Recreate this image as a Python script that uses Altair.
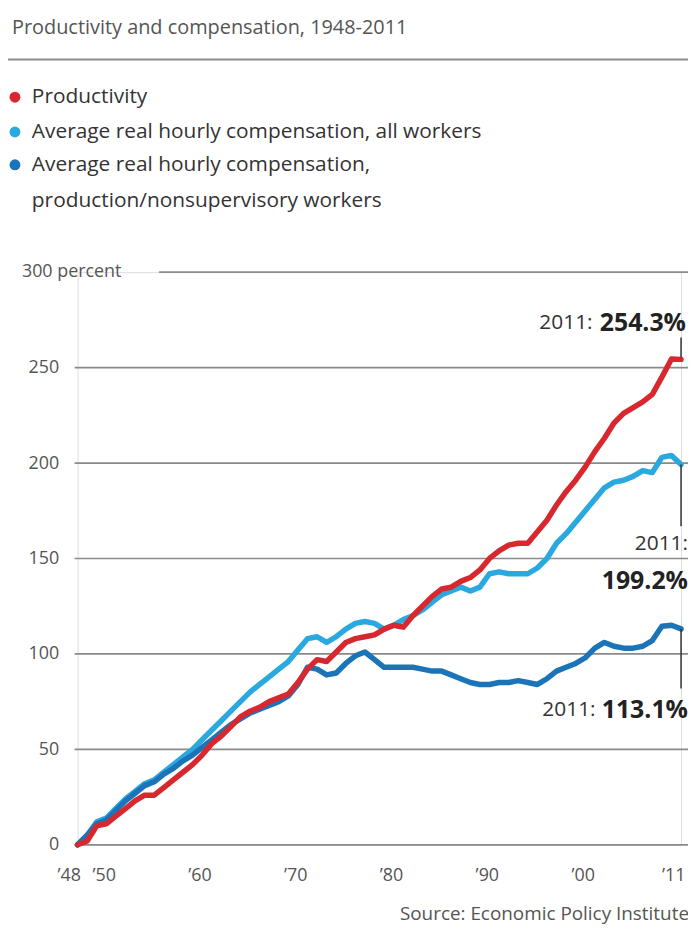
import altair as alt
import pandas as pd

# ---------------- data ----------------
years = list(range(1948, 2012))
productivity = [0, 2, 10, 11, 15, 19, 23, 26, 26, 30,
                34, 38, 42, 47, 53, 57, 62, 67, 70, 72,
                75, 77, 79, 85, 92, 97, 96, 101, 106, 108,
                109, 110, 113, 115, 114, 120, 125, 130, 134, 135,
                138, 140, 144, 150, 154, 157, 158, 158, 164, 170,
                178, 185, 191, 198, 206, 213, 221, 226, 229, 232,
                236, 245, 254.5, 254.3]
comp_all = [0, 5, 12, 14, 19, 24, 28, 32, 34, 38,
            42, 46, 50, 55, 60, 65, 70, 75, 80, 84,
            88, 92, 96, 102, 108, 109, 106, 109, 113, 116,
            117, 116, 113, 115, 118, 120, 123, 127, 131, 133,
            135, 133, 135, 142, 143, 142, 142, 142, 145, 150,
            158, 163, 169, 175, 181, 187, 190, 191, 193, 196,
            195, 203, 204, 199.2]
comp_prod = [0, 5, 11, 13, 18, 23, 27, 31, 33, 37,
             40, 44, 47, 51, 55, 59, 63, 66, 69, 71,
             73, 75, 78, 84, 93, 92, 89, 90, 95, 99,
             101, 97, 93, 93, 93, 93, 92, 91, 91, 89,
             87, 85, 84, 84, 85, 85, 86, 85, 84, 87,
             91, 93, 95, 98, 103, 106, 104, 103, 103, 104,
             107, 114.5, 115, 113.1]

series_names = ["Productivity",
                "Average real hourly compensation, all workers",
                "Average real hourly compensation, production/nonsupervisory workers"]
legend_lines = [["Productivity"],
                ["Average real hourly compensation, all workers"],
                ["Average real hourly compensation,", "production/nonsupervisory workers"]]
colors = ["#d7282f", "#2aa8e0", "#1c74b8"]

y_grid = [0, 50, 100, 150, 200, 250]
y_top = [300]
y_top_label = ["300 percent"]
x_ticks = [1948, 1950, 1960, 1970, 1980, 1990, 2000, 2011]

final_year = 2011
final_values = [254.3, 199.2, 113.1]
final_labels = ["254.3%", "199.2%", "113.1%"]
year_label = "2011:"

title_text = "Productivity and compensation, 1948-2011"
source_text = "Source: Economic Policy Institute"

# ---------------- layout ----------------
W, H = 607, 576
FONT = "Open Sans"

x_enc = alt.X("year:Q",
              scale=alt.Scale(domain=[1948, 2011], nice=False, zero=False),
              axis=alt.Axis(values=x_ticks, title=None, grid=False, domain=False,
                            ticks=False, tickSize=0, labelPadding=31,
                            labelBaseline="middle", labelFlush=False, labelOverlap=False,
                            labelFontSize=18, labelColor="#555", labelFont=FONT,
                            labelExpr="'\u2019' + slice(format(datum.value, 'd'), 2)",
                            labelAlign=alt.ExprRef(expr="datum.value == 2011 ? 'right' : 'center'"),
                            labelOffset=alt.ExprRef(expr="datum.value == 1948 ? -9 : (datum.value == 2011 ? 4 : 7)")))
y_enc = alt.Y("value:Q",
              scale=alt.Scale(domain=[0, 300], nice=False, zero=True),
              axis=alt.Axis(values=y_grid, title=None, grid=False, domain=False,
                            ticks=False, tickSize=0, labelPadding=19,
                            labelBaseline="middle", labelFontSize=18,
                            labelColor="#555", labelFont=FONT))

layers = []

# gridlines
grid_df = pd.DataFrame({"value": y_grid})
layers.append(alt.Chart(grid_df).mark_rule(color="#8a8a8a", strokeWidth=1.7).encode(
    y=y_enc, x=alt.value(-3), x2=alt.value(620)))
top_df = pd.DataFrame({"value": y_top, "label": y_top_label})
layers.append(alt.Chart(top_df).mark_rule(color="#8a8a8a", strokeWidth=1.7).encode(
    y=y_enc, x=alt.value(82), x2=alt.value(620)))
layers.append(alt.Chart(top_df).mark_text(align="left", baseline="middle", fontSize=18,
                                          font=FONT, color="#555").encode(
    y=y_enc, x=alt.value(-56), text="label:N"))

# lines (draw order: all workers, production workers, productivity on top)
series_values = [productivity, comp_all, comp_prod]
for idx in [1, 2, 0]:
    df = pd.DataFrame({"year": years, "value": series_values[idx]})
    layers.append(alt.Chart(df).mark_line(strokeWidth=5.5, strokeJoin="round",
                                          strokeCap="round", color=colors[idx]).encode(
        x=x_enc, y=y_enc))

# end annotations
ann_style = [
    # (rule yOffset, y2Offset, year-label dx, dy, value dx, dy)
    (-2, -22, -89, -37, 5, -37),
    (0, 62, 7, 80, 7, 117),
    (0, 60, -86, 82, 7, 82),
]
for i, (v, lab) in enumerate(zip(final_values, final_labels)):
    adf = pd.DataFrame({"year": [final_year], "value": [v], "value2": [v],
                        "lab": [lab], "yl": [year_label]})
    r0, r1, ydx, ydy, vdx, vdy = ann_style[i]
    layers.append(alt.Chart(adf).mark_rule(color="#333", strokeWidth=1.5,
                                           yOffset=r0, y2Offset=r1).encode(
        x=x_enc, y=y_enc, y2="value2:Q"))
    layers.append(alt.Chart(adf).mark_text(align="right", baseline="middle", dx=ydx, dy=ydy,
                                           fontSize=21, font=FONT, color="#333").encode(
        x=x_enc, y=y_enc, text="yl:N"))
    layers.append(alt.Chart(adf).mark_text(align="right", baseline="middle", dx=vdx, dy=vdy,
                                           fontSize=25, font=FONT, fontWeight="bold",
                                           color="#222").encode(
        x=x_enc, y=y_enc, text="lab:N"))

# title and rule
tdf = pd.DataFrame({"t": [title_text]})
layers.append(alt.Chart(tdf).mark_text(align="left", baseline="middle", fontSize=20,
                                       font=FONT, color="#555").encode(
    x=alt.value(-66), y=alt.value(-246), text="t:N"))
layers.append(alt.Chart(tdf).mark_rule(color="#8a8a8a", strokeWidth=2).encode(
    x=alt.value(-70), x2=alt.value(620), y=alt.value(-214)))

# legend
row_y = [-176, -141, -108]
for i, name in enumerate(series_names):
    ldf = pd.DataFrame({"name": [name]})
    layers.append(alt.Chart(ldf).mark_point(filled=True, shape="circle", size=120,
                                            opacity=1, color=colors[i]).encode(
        x=alt.value(-63), y=alt.value(row_y[i])))
    for j, line in enumerate(legend_lines[i]):
        ltdf = pd.DataFrame({"t": [line]})
        layers.append(alt.Chart(ltdf).mark_text(align="left", baseline="middle", fontSize=21,
                                                font=FONT, color="#333").encode(
            x=alt.value(-46), y=alt.value(row_y[i] + 36 * j), text="t:N"))

# source
sdf = pd.DataFrame({"t": [source_text]})
layers.append(alt.Chart(sdf).mark_text(align="right", baseline="middle", fontSize=19,
                                       font=FONT, color="#555").encode(
    x=alt.value(615), y=alt.value(646), text="t:N"))

chart = alt.layer(*layers).properties(
    width=W, height=H,
    autosize=alt.AutoSizeParams(type="none"),
    padding={"left": 70, "top": 263, "right": 7, "bottom": 83},
).configure_view(stroke=None).configure(background="white", font=FONT)

chart.save("out.html", embed_options={"renderer": "svg", "actions": False})
